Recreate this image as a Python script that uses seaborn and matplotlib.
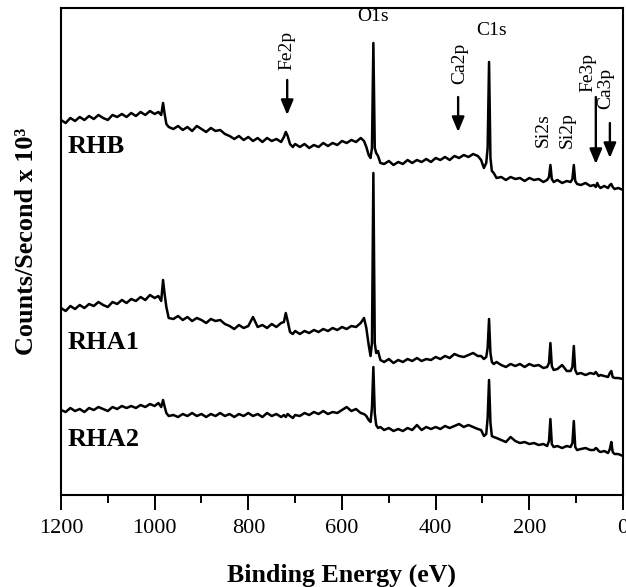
import matplotlib
matplotlib.use("Agg")
import matplotlib.pyplot as plt
from matplotlib.ticker import MultipleLocator
import seaborn as sns

# binding energy grid (eV), denser around the peaks
energy = [1200, 1190, 1180, 1170, 1160, 1150, 1140, 1130, 1120, 1110, 1100, 1090, 1080, 1070, 1060, 1050, 1040, 1030, 1020, 1010, 1000,
          992, 986, 982, 979, 975, 970,
          960, 950, 940, 930, 920, 910, 900, 890, 880, 870, 860, 850, 840, 830, 820, 810, 800, 790, 780, 770, 760, 750, 740, 730,
          724, 720, 716, 711, 705, 700,
          690, 680, 670, 660, 650, 640, 630, 620, 610, 600, 590, 580, 570, 560,
          553, 548, 543, 539, 536, 533, 530, 527, 523, 518,
          510, 500, 490, 480, 470, 460, 450, 440, 430, 420, 410, 400, 390, 380, 370, 360, 350, 340, 330, 320, 310,
          303, 297, 292, 289, 286, 283, 280, 276, 270,
          260, 250, 240, 230, 220, 210, 200, 190, 180, 170,
          162, 158, 155, 152, 148,
          140, 130, 120,
          112, 108, 105, 102, 98,
          90, 80, 70,
          62, 58, 55, 52, 48,
          40,
          32, 28, 25, 22, 18,
          10, 0]

# stacked spectra (offset intensity, arb. units)
rhb = [373, 370, 375, 372, 376, 373, 377, 374, 378, 375, 373, 378, 376, 379, 376, 380, 377, 381, 378, 382, 379,
       381, 378, 390, 380, 369, 366,
       364, 367, 363, 366, 362, 367, 364, 361, 365, 362, 363, 359, 357, 354, 357, 353, 356, 352, 355, 351, 355, 352, 354, 351,
       356, 361, 357, 349, 346, 349,
       346, 349, 345, 348, 346, 350, 347, 350, 348, 352, 350, 353, 351, 355,
       352, 346, 338, 335, 345, 450, 345, 340, 337, 330,
       329, 332, 328, 331, 329, 333, 330, 333, 331, 334, 331, 335, 333, 336, 333, 337, 335, 338, 336, 339, 337,
       333, 325, 330, 345, 431, 335, 322, 320, 315,
       316, 313, 316, 314, 315, 312, 315, 313, 314, 311,
       313, 316, 328, 314, 311,
       313, 310, 312,
       311, 314, 328, 312, 309,
       308, 310, 307,
       308, 306, 310, 307, 305,
       307,
       305, 308, 309, 306, 304,
       305, 303]

rha1 = [185, 182, 187, 184, 188, 185, 189, 187, 191, 188, 186, 191, 189, 193, 190, 194, 192, 196, 193, 198, 195,
        197, 192, 213, 200, 186, 175,
        174, 177, 173, 176, 172, 175, 173, 170, 174, 172, 173, 169, 167, 164, 168, 165, 167, 176, 166, 168, 165, 169, 166, 170,
        171, 180, 172, 161, 159, 162,
        159, 162, 160, 163, 161, 164, 162, 165, 163, 166, 164, 167, 166, 170,
        175, 165, 148, 137, 150, 320, 150, 140, 142, 133,
        131, 134, 130, 133, 131, 134, 132, 135, 132, 134, 133, 136, 134, 137, 135, 139, 137, 136, 138, 140, 137,
        137, 134, 136, 145, 174, 140, 131, 129, 131,
        128, 126, 129, 127, 129, 126, 129, 127, 128, 125,
        126, 130, 150, 127, 123,
        124, 128, 122,
        122, 126, 147, 123, 119,
        120, 118, 120,
        119, 121, 119, 117, 118,
        117,
        116, 120, 122, 116, 115,
        115, 114]

rha2 = [83, 81, 85, 82, 84, 81, 85, 83, 86, 84, 82, 86, 84, 87, 85, 87, 85, 88, 86, 89, 87,
        90, 86, 93, 87, 80, 77,
        78, 76, 79, 77, 80, 77, 79, 76, 79, 77, 80, 77, 79, 76, 79, 77, 80, 77, 79, 76, 80, 77, 79, 76,
        78, 76, 79, 77, 75, 78,
        77, 80, 78, 81, 79, 82, 79, 81, 80, 83, 86, 82, 84, 80,
        79, 77, 73, 71, 85, 126, 80, 68, 65, 66,
        63, 65, 62, 64, 62, 65, 63, 68, 63, 66, 64, 66, 64, 67, 65, 67, 69, 66, 68, 66, 64,
        63, 57, 59, 75, 113, 70, 57, 56, 55,
        53, 51, 56, 52, 50, 51, 49, 50, 48, 49,
        47, 52, 74, 49, 46,
        47, 45, 47,
        46, 50, 72, 46, 43,
        44, 45, 43,
        43, 45, 44, 42, 41,
        42,
        40, 44, 51, 41, 39,
        39, 37]

sns.set_style("ticks")
plt.rcParams['font.family'] = ['Liberation Serif', 'DejaVu Serif']
plt.rcParams['text.color'] = 'black'
plt.rcParams['axes.labelcolor'] = 'black'
plt.rcParams['xtick.color'] = 'black'
plt.rcParams['axes.edgecolor'] = 'black'

fig, ax = plt.subplots(figsize=(6.26, 5.87), dpi=100)
fig.subplots_adjust(left=0.0974, right=0.9952, bottom=0.1567, top=0.9864)

for spectrum in (rhb, rha1, rha2):
    sns.lineplot(x=energy, y=spectrum, ax=ax, color="black", linewidth=1.8,
                 sort=False, estimator=None)

ax.set_xlim(1200, 0)
ax.set_ylim(-2, 485)
ax.set_yticks([])
ax.xaxis.set_major_locator(MultipleLocator(200))
ax.xaxis.set_minor_locator(MultipleLocator(100))
ax.tick_params(axis='x', which='major', direction='out', length=11, width=1.4,
               labelsize=16, pad=6)
ax.tick_params(axis='x', which='minor', direction='out', length=5.5, width=1.4)
for spine in ax.spines.values():
    spine.set_linewidth(1.5)

ax.set_xlabel("Binding Energy (eV)", fontsize=18.6, fontweight='bold', va='center')
ax.xaxis.set_label_coords(0.5, -0.165)
ax.set_ylabel("Counts/Second x 10³", fontsize=18.8, fontweight='bold', va='center')
ax.yaxis.set_label_coords(-0.062, 0.52)

# sample names
ax.text(1185, 346, "RHB", fontsize=19, fontweight='bold', ha='left', va='center')
ax.text(1185, 151, "RHA1", fontsize=19, fontweight='bold', ha='left', va='center')
ax.text(1185, 54, "RHA2", fontsize=19, fontweight='bold', ha='left', va='center')

# peak assignments
arrow = dict(arrowstyle='-|>,head_length=0.6,head_width=0.25', color='black',
             lw=1.7, mutation_scale=15, shrinkA=0, shrinkB=0)
ax.text(534, 476, "O1s", fontsize=14, ha='center', va='center')
ax.text(280, 462, "C1s", fontsize=14, ha='center', va='center')
ax.text(717, 443, "Fe2p", fontsize=14, rotation=90, ha='center', va='center')
ax.annotate("", xy=(717, 378), xytext=(717, 413), arrowprops=arrow)
ax.text(348, 430, "Ca2p", fontsize=14, rotation=90, ha='center', va='center')
ax.annotate("", xy=(352, 361), xytext=(352, 396), arrowprops=arrow)
ax.text(171, 363, "Si2s", fontsize=14, rotation=90, ha='center', va='center')
ax.text(120, 363, "Si2p", fontsize=14, rotation=90, ha='center', va='center')
ax.text(76, 420, "Fe3p", fontsize=14, rotation=90, ha='center', va='center')
ax.annotate("", xy=(58, 329), xytext=(58, 396), arrowprops=arrow)
ax.text(36, 405, "Ca3p", fontsize=14, rotation=90, ha='center', va='center')
ax.annotate("", xy=(28, 335), xytext=(28, 370), arrowprops=arrow)

fig.savefig("out.png", dpi=100)
plt.close(fig)
